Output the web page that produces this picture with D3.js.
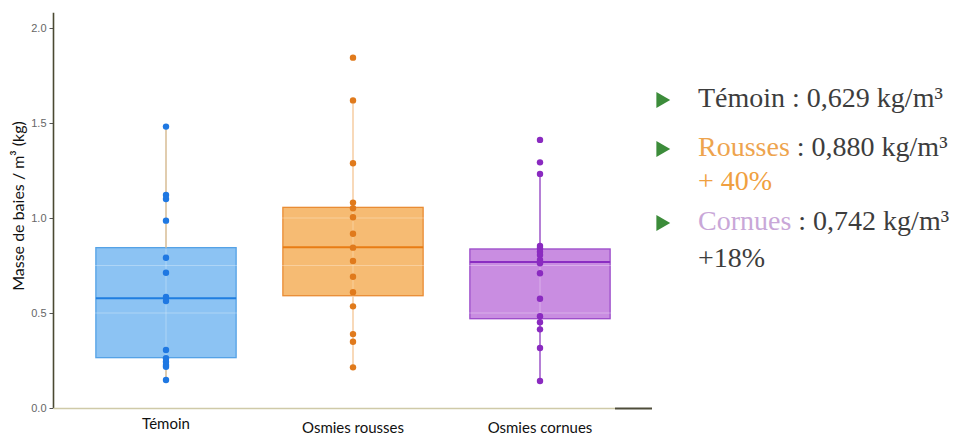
<!DOCTYPE html>
<html>
<head>
<meta charset="utf-8">
<script src="https://cdn.jsdelivr.net/npm/d3@7"></script>
<style>
  html, body { margin: 0; padding: 0; background: #fff; }
  svg { display: block; }
</style>
</head>
<body>
<svg id="chart" width="959" height="435"></svg>
<script>
// Groups and raw observations (berry mass per m³, kg)
const categories = ["Témoin", "Osmies rousses", "Osmies cornues"];
const temoinValues = [1.481, 1.121, 1.100, 0.986, 0.791, 0.712, 0.584, 0.563, 0.305, 0.262, 0.244, 0.226, 0.217, 0.147];
const roussesValues = [1.844, 1.619, 1.288, 1.081, 1.051, 1.004, 0.917, 0.844, 0.774, 0.691, 0.609, 0.535, 0.389, 0.349, 0.214];
const cornuesValues = [1.411, 1.293, 1.232, 0.853, 0.841, 0.823, 0.805, 0.779, 0.762, 0.709, 0.575, 0.483, 0.451, 0.414, 0.316, 0.142];

// Box summaries per group
const q1Values = [0.265, 0.591, 0.470];
const medianValues = [0.577, 0.846, 0.768];
const q3Values = [0.844, 1.056, 0.837];
const whiskerLow = [0.147, 0.214, 0.142];
const whiskerHigh = [1.481, 1.619, 1.232];

const yTicks = [0, 0.5, 1.0, 1.5, 2.0];
const gridValues = [0.25, 0.5, 0.75, 1.0, 1.25, 1.5, 1.75, 2.0];

// Summary text beside the plot
const summaryNames = ["Témoin", "Rousses", "Cornues"];
const summaryMeans = ["0,629", "0,880", "0,742"];
const summaryGains = [null, "+ 40%", "+18%"];

const palette = [
  { fill: "#8cc3f3", stroke: "#55a2e6", median: "#1f7ee0", point: "#1f78e2", whisker: "#d7bd94" },
  { fill: "#f6bb73", stroke: "#e98c34", median: "#e87c14", point: "#e07a1c", whisker: "#f6cda2" },
  { fill: "#c98de1", stroke: "#9b4bc9", median: "#8a2ec2", point: "#8a2ac0", whisker: "#9c55c8" }
];

const groups = categories.map((c, i) => ({
  name: c,
  values: [temoinValues, roussesValues, cornuesValues][i],
  q1: q1Values[i], median: medianValues[i], q3: q3Values[i],
  lo: whiskerLow[i], hi: whiskerHigh[i],
  col: palette[i]
}));

const svg = d3.select("#chart");

const x = d3.scaleBand()
  .domain(categories)
  .range([72.5, 633.5])
  .paddingInner(0.25)
  .paddingOuter(0.125);
const y = d3.scaleLinear().domain([0, 2]).range([408, 28]);
const cx = c => x(c) + x.bandwidth() / 2;

// Box bodies
const g = svg.append("g");
g.selectAll("rect.box").data(groups).join("rect")
  .attr("class", "box")
  .attr("x", d => x(d.name))
  .attr("width", x.bandwidth())
  .attr("y", d => y(d.q3))
  .attr("height", d => y(d.q1) - y(d.q3))
  .attr("fill", d => d.col.fill)
  .attr("stroke", d => d.col.stroke)
  .attr("stroke-width", 1.3);

// Light panel grid, visible through the translucent boxes
g.selectAll("line.hgrid").data(gridValues).join("line")
  .attr("x1", 55).attr("x2", 650)
  .attr("y1", d => y(d)).attr("y2", d => y(d))
  .attr("stroke", "#fff").attr("stroke-opacity", 0.3).attr("stroke-width", 1);
g.selectAll("line.vgrid").data(groups).join("line")
  .attr("x1", d => cx(d.name)).attr("x2", d => cx(d.name))
  .attr("y1", d => y(d.q3) + 1).attr("y2", d => y(d.q1) - 1)
  .attr("stroke", "#fff").attr("stroke-opacity", 0.3).attr("stroke-width", 1);

// Whiskers
g.selectAll("line.wtop").data(groups).join("line")
  .attr("x1", d => cx(d.name)).attr("x2", d => cx(d.name))
  .attr("y1", d => y(d.hi)).attr("y2", d => y(d.q3))
  .attr("stroke", d => d.col.whisker).attr("stroke-width", 1.5);
g.selectAll("line.wbot").data(groups).join("line")
  .attr("x1", d => cx(d.name)).attr("x2", d => cx(d.name))
  .attr("y1", d => y(d.q1)).attr("y2", d => y(d.lo))
  .attr("stroke", d => d.col.whisker).attr("stroke-width", 1.5);

// Medians
g.selectAll("line.median").data(groups).join("line")
  .attr("x1", d => x(d.name)).attr("x2", d => x(d.name) + x.bandwidth())
  .attr("y1", d => y(d.median)).attr("y2", d => y(d.median))
  .attr("stroke", d => d.col.median).attr("stroke-width", 2);

// Observations
groups.forEach(d => {
  g.selectAll(null).data(d.values).join("circle")
    .attr("cx", cx(d.name))
    .attr("cy", v => y(v))
    .attr("r", 3.2)
    .attr("fill", d.col.point);
});

// Y axis
const yAxis = svg.append("g")
  .attr("transform", "translate(53.5,0)")
  .call(d3.axisLeft(y).tickValues(yTicks).tickFormat(d3.format(".1f")).tickSize(4).tickSizeOuter(0));
yAxis.select(".domain").remove();
yAxis.selectAll(".tick line").attr("stroke", "#555");
yAxis.selectAll(".tick text")
  .attr("fill", "#666").attr("font-family", "Liberation Sans, Arial, sans-serif")
  .attr("font-size", 11).attr("x", -7);
svg.append("line")
  .attr("x1", 53.5).attr("x2", 53.5)
  .attr("y1", y(2.08)).attr("y2", y(0))
  .attr("stroke", "#4b4a32").attr("stroke-width", 1.6);

// X axis baseline
svg.append("line")
  .attr("x1", 53.5).attr("x2", 615).attr("y1", y(0) + 0.5).attr("y2", y(0) + 0.5)
  .attr("stroke", "#cfcaa8").attr("stroke-width", 1.6);
svg.append("line")
  .attr("x1", 615).attr("x2", 652).attr("y1", y(0) + 0.5).attr("y2", y(0) + 0.5)
  .attr("stroke", "#4f4d3a").attr("stroke-width", 2);

svg.append("g").selectAll("text").data(categories).join("text")
  .attr("x", d => cx(d))
  .attr("y", (d, i) => i === 0 ? 429 : 433)
  .attr("text-anchor", "middle")
  .attr("font-family", "Lato, sans-serif")
  .attr("font-size", 15)
  .attr("fill", "#111")
  .text(d => d);

// Y title
svg.append("text")
  .attr("transform", `translate(24,206) rotate(-90)`)
  .attr("text-anchor", "middle")
  .attr("font-family", "Lato, sans-serif")
  .attr("font-size", 16)
  .attr("fill", "#111")
  .text("Masse de baies / m³ (kg)");

// Summary panel
const rows = [
  { base: 107, nameColor: "#3d3d3d", gainBase: null, gainColor: null },
  { base: 156, nameColor: "#eea44e", gainBase: 190, gainColor: "#f0a040" },
  { base: 230, nameColor: "#c9a7d8", gainBase: 267, gainColor: "#3d3d3d" }
];
const panel = svg.append("g");
summaryNames.forEach((n, i) => {
  const r = rows[i];
  panel.append("path")
    .attr("d", d3.symbol(d3.symbolTriangle, 110)())
    .attr("transform", `translate(661,${r.base - 7}) rotate(90)`)
    .attr("fill", "#3c8c3a");
  const t = panel.append("text")
    .attr("x", 698).attr("y", r.base)
    .attr("font-family", "Liberation Serif, serif")
    .attr("font-size", 28)
    .attr("fill", "#3d3d3d");
  t.append("tspan").attr("fill", r.nameColor).text(n);
  t.append("tspan").text(" : " + summaryMeans[i] + " kg/m³");
  if (summaryGains[i]) {
    panel.append("text")
      .attr("x", 698).attr("y", r.gainBase)
      .attr("font-family", "Liberation Serif, serif")
      .attr("font-size", 28)
      .attr("fill", r.gainColor)
      .text(summaryGains[i]);
  }
});
</script>
</body>
</html>
